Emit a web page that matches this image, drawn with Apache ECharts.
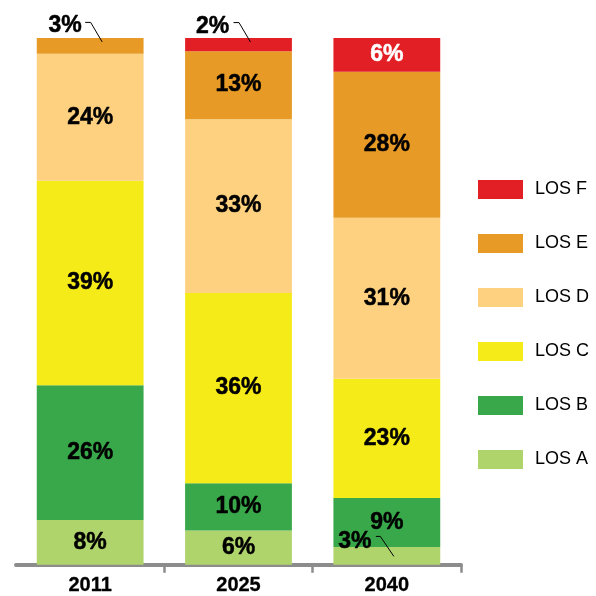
<!DOCTYPE html>
<html>
<head>
<meta charset="utf-8">
<script src="https://cdn.jsdelivr.net/npm/echarts@6/dist/echarts.min.js"></script>
<style>html,body{margin:0;padding:0;background:#fff;}#c{width:596px;height:596px;}</style>
</head>
<body>
<div id="c"></div>
<script>
const years = ['2011', '2025', '2040'];
const losA = [8.5, 6.5, 3.4];
const losB = [25.6, 9.0, 9.3];
const losC = [38.8, 36.1, 22.6];
const losD = [24.1, 33.0, 30.6];
const losE = [3.0, 12.9, 27.7];
const losF = [0, 2.5, 6.4];
const labA = ['8%', '6%', '3%'];
const labB = ['26%', '10%', '9%'];
const labC = ['39%', '36%', '23%'];
const labD = ['24%', '33%', '31%'];
const labE = ['3%', '13%', '28%'];
const labF = ['', '2%', '6%'];
const seriesNames = ['LOS A', 'LOS B', 'LOS C', 'LOS D', 'LOS E', 'LOS F'];
const colors = ['#b0d46c', '#38a84a', '#f5eb18', '#fed180', '#e79a25', '#e31f26'];

const values = [losA, losB, losC, losD, losE, losF];
const labels = [labA, labB, labC, labD, labE, labF];
// small segments whose label sits outside with a leader line:
// [seriesIndex, dataIndex, label dx, label dy, leader points relative to segment centre]
const outside = [
  [4, 0, -25, -20, [[-5, -23.5], [0.5, -23.5], [12, -4]]],
  [5, 1, -26, -18, [[-5, -22], [0.5, -22], [12, -2.5]]],
  [0, 2, -32, -14, [[-11, -19.5], [-6.5, -19.5], [7, 0.5]]]
];

const font = '"Liberation Sans", Arial, sans-serif';

const series = values.map((vals, si) => ({
  name: seriesNames[si],
  type: 'bar',
  stack: 'total',
  barWidth: '72%',
  itemStyle: { color: colors[si] },
  label: {
    show: true,
    position: 'inside',
    fontFamily: font,
    fontWeight: 'bold',
    fontSize: 23,
    color: si === 5 ? '#ffffff' : '#000000',
    textBorderColor: si === 5 ? '#ffffff' : '#000000',
    textBorderWidth: 0.5,
    formatter: p => labels[si][p.dataIndex]
  },
  labelLayout: function (p) {
    for (const o of outside) {
      if (o[0] === si && o[1] === p.dataIndex) return { dx: o[2], dy: o[3] };
    }
    return {};
  },
  data: vals.map((v, di) => {
    const o = outside.find(x => x[0] === si && x[1] === di);
    if (o) return { value: v, label: { color: '#000', textBorderColor: '#000' } };
    return v;
  })
}));

const chart = echarts.init(document.getElementById('c'));
chart.setOption({
  animation: false,
  backgroundColor: '#ffffff',
  grid: { left: 16, right: 135, top: 38, bottom: 30 },
  xAxis: {
    type: 'category',
    data: years,
    axisLine: { lineStyle: { color: '#8c8c8c', width: 4 } },
    axisTick: { show: true, length: 8, lineStyle: { color: '#8c8c8c', width: 2.5 }, interval: (i) => i !== 0 },
    axisLabel: { color: '#000', fontFamily: font, fontWeight: 'bold', fontSize: 20, margin: 11, textBorderColor: '#000', textBorderWidth: 0.3 }
  },
  yAxis: { type: 'value', min: 0, max: 100, show: false },
  legend: {
    orient: 'vertical',
    left: 473,
    top: 175,
    itemWidth: 45,
    itemHeight: 19,
    itemGap: 35,
    icon: 'rect',
    data: ['LOS F', 'LOS E', 'LOS D', 'LOS C', 'LOS B', 'LOS A'],
    textStyle: { color: '#000', fontFamily: font, fontSize: 18, padding: [0, 0, 0, 7] }
  },
  series: series
});

// leader lines, anchored at each small segment's centre via the chart's own scales
const graphics = outside.map(o => {
  const si = o[0], di = o[1];
  let base = 0;
  for (let k = 0; k < si; k++) base += values[k][di];
  const c = chart.convertToPixel({ gridIndex: 0 }, [di, base + values[si][di] / 2]);
  return {
    type: 'polyline',
    silent: true,
    z: 100,
    shape: { points: o[4].map(p => [c[0] + p[0], c[1] + p[1]]) },
    style: { stroke: '#000', lineWidth: 1, fill: null }
  };
});
chart.setOption({ graphic: graphics });
</script>
</body>
</html>
